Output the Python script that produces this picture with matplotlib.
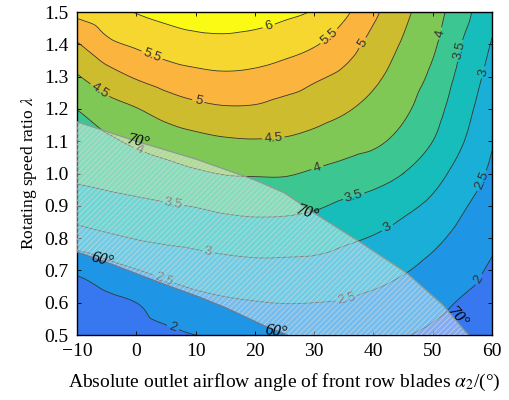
import numpy as np
import matplotlib
matplotlib.use('Agg')
import matplotlib.pyplot as plt
from matplotlib.tri import Triangulation, UniformTriRefiner, CubicTriInterpolator
from matplotlib.patches import Polygon

plt.rcParams['font.family'] = 'Liberation Serif'
plt.rcParams['mathtext.fontset'] = 'stix'

# outlet angle of front row blades (deg) and rotating speed ratio
alpha2 = [-10, -5, 0, 5, 10, 15, 20, 25, 30, 35, 40, 45, 50, 55, 60]
lam = [0.5, 0.6, 0.7, 0.8, 0.9, 1.0, 1.1, 1.2, 1.3, 1.4, 1.5]

# one column per alpha2 value, rows follow lam from 0.5 up to 1.5
eff_cols = [
    [1.65, 1.82, 2.07, 2.77, 3.27, 3.59, 3.80, 4.01, 4.46, 4.96, 5.64],  # -10
    [1.72, 1.88, 2.31, 2.91, 3.34, 3.66, 3.92, 4.30, 4.79, 5.38, 5.83],  # -5
    [1.82, 2.00, 2.48, 3.02, 3.40, 3.74, 4.08, 4.48, 5.05, 5.57, 6.02],  # 0
    [1.90, 2.22, 2.63, 3.09, 3.46, 3.83, 4.23, 4.71, 5.24, 5.74, 6.14],  # 5
    [2.00, 2.35, 2.74, 3.14, 3.52, 3.94, 4.35, 4.87, 5.36, 5.85, 6.20],  # 10
    [2.05, 2.43, 2.81, 3.20, 3.60, 4.02, 4.44, 4.95, 5.42, 5.88, 6.22],  # 15
    [2.12, 2.48, 2.85, 3.24, 3.64, 4.04, 4.47, 4.94, 5.38, 5.83, 6.19],  # 20
    [2.15, 2.51, 2.85, 3.23, 3.63, 4.04, 4.45, 4.83, 5.26, 5.71, 6.10],  # 25
    [2.15, 2.50, 2.84, 3.19, 3.56, 3.94, 4.35, 4.72, 5.08, 5.54, 5.96],  # 30
    [2.13, 2.47, 2.77, 3.08, 3.42, 3.83, 4.21, 4.56, 4.89, 5.24, 5.60],  # 35
    [2.08, 2.38, 2.68, 2.97, 3.31, 3.70, 4.09, 4.35, 4.60, 4.83, 5.10],  # 40
    [2.02, 2.27, 2.54, 2.81, 3.12, 3.50, 3.85, 4.10, 4.28, 4.45, 4.62],  # 45
    [1.92, 2.12, 2.36, 2.61, 2.89, 3.19, 3.50, 3.70, 3.90, 4.08, 4.21],  # 50
    [1.82, 1.96, 2.16, 2.35, 2.56, 2.80, 3.03, 3.19, 3.34, 3.48, 3.68],  # 55
    [1.72, 1.82, 1.94, 2.09, 2.24, 2.40, 2.54, 2.69, 2.83, 2.97, 3.10],  # 60
]

levels = [1.0, 2.0, 2.5, 3.0, 3.5, 4.0, 4.5, 5.0, 5.5, 6.0, 7.0]
line_levels = [2.0, 2.5, 3.0, 3.5, 4.0, 4.5, 5.0, 5.5, 6.0]
band_colors = ['#3778f0', '#1f95e6', '#19afd6', '#16bdbb', '#3cc792',
               '#80c855', '#cdbd2e', '#fbb43d', '#f6d72f', '#fafa14']

# where the contour values are written on the lines
label_pos = [(22.5, 1.447), (2.8, 1.373), (32.3, 1.429), (10.4, 1.221),
             (38.2, 1.404), (-6.1, 1.259), (23.1, 1.110), (50.7, 1.436),
             (30.5, 1.02), (0.5, 1.075), (54.6, 1.38), (36.5, 0.94),
             (6.3, 0.912), (58.3, 1.314), (42.3, 0.834), (12.1, 0.757),
             (58.0, 0.98), (35.5, 0.608), (4.8, 0.676), (58.0, 0.67),
             (6.2, 0.525)]

# 70 deg and 60 deg boundaries of the hatched zone
x70 = [-10, 0, 10, 20, 25, 29.8, 37.7, 45.6, 51.7, 56]
y70 = [1.16, 1.10, 1.045, 0.98, 0.94, 0.88, 0.788, 0.692, 0.593, 0.5]
x60 = [-10, -5, 0, 5, 10.7, 15, 22, 25.5]
y60 = [0.757, 0.725, 0.69, 0.655, 0.617, 0.585, 0.525, 0.5]

ang_labels = [('70°', 0.3, 1.10, -12), ('70°', 28.8, 0.880, -18),
              ('70°', 54.1, 0.556, -48), ('60°', -5.8, 0.733, -14),
              ('60°', 23.6, 0.512, -8)]

A, L = np.meshgrid(alpha2, lam)
Z = np.array(eff_cols).T

# smooth the grid with a cubic refinement (done in normalised coordinates)
tri0 = Triangulation(A.ravel() / 70.0, L.ravel())
refiner = UniformTriRefiner(tri0)
interp = CubicTriInterpolator(tri0, Z.ravel(), kind='geom')
tri_f, z_f = refiner.refine_field(Z.ravel(), triinterpolator=interp, subdiv=4)
tri = Triangulation(tri_f.x * 70.0, tri_f.y, tri_f.triangles)

fig = plt.figure(figsize=(5.09, 4.0), dpi=100)
ax = fig.add_axes([0.1513, 0.1625, 0.8153, 0.8075])

ax.tricontourf(tri, z_f, levels=levels, colors=band_colors)
cs = ax.tricontour(tri, z_f, levels=line_levels, colors='#333333', linewidths=0.6)
labs = ax.clabel(cs, fmt='%g', fontsize=9.5, inline=True, inline_spacing=3,
                 manual=label_pos)
for t in labs:
    t.set_family('Liberation Sans')

# hatched zone between the two angle lines
px = x70 + x60[::-1]
py = y70 + y60[::-1]
poly = list(zip(px, py))
ax.add_patch(Polygon(poly, closed=True, facecolor=(1, 1, 1, 0.38),
                     edgecolor='none', zorder=5))
plt.rcParams['hatch.linewidth'] = 0.6
ax.add_patch(Polygon(poly, closed=True, facecolor='none',
                     edgecolor=(0.85, 0.85, 0.85, 0.7), linewidth=0,
                     hatch='//////', zorder=5))
ax.plot(x70, y70, color='#8a9a90', lw=0.9, zorder=6)
ax.plot(x60, y60, color='#6a7a90', lw=0.9, zorder=6)

for s, xx, yy, rot in ang_labels:
    ax.text(xx, yy, s, fontsize=11.5, style='italic', rotation=rot,
            ha='center', va='center', zorder=7)

ax.set_xlim(-10, 60)
ax.set_ylim(0.5, 1.5)
ax.set_xticks(range(-10, 61, 10))
ax.set_yticks(np.arange(0.5, 1.51, 0.1))
ax.set_xticklabels(['\u221210', '0', '10', '20', '30', '40', '50', '60'])
ax.set_yticklabels(['%.1f' % v for v in np.arange(0.5, 1.51, 0.1)])
ax.tick_params(direction='in', top=True, right=True, labelsize=14,
               length=3, width=0.6)
ax.tick_params(axis='x', pad=6)
ax.tick_params(axis='y', pad=6)
for sp in ax.spines.values():
    sp.set_linewidth(1.0)

ax.set_xlabel(r'Absolute outlet airflow angle of front row blades $\alpha_2$/(°)',
              fontsize=14, labelpad=8)
ax.set_ylabel(r'Rotating speed ratio $\lambda$', fontsize=12.5, labelpad=4)

fig.savefig('out.png', dpi=100)
